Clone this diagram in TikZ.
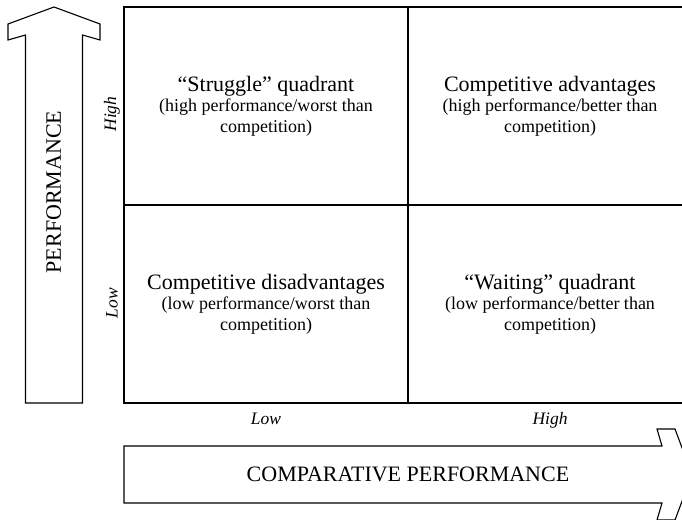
\documentclass[tikz,border=0pt]{standalone}
\usepackage{fontspec}
\setmainfont{Liberation Serif}
\usetikzlibrary{positioning}

\begin{document}
\begin{tikzpicture}[
  x=1pt,y=-1pt,
  line width=1.1pt,
  node distance=0pt,
  quad/.style={draw,minimum width=284pt,minimum height=198pt,outer sep=0pt,inner sep=0pt,align=center,font=\fontsize{18}{20.5}\selectfont},
  head/.style={font=\fontsize{22}{24}\selectfont},
  level/.style={font=\fontsize{17.5}{20}\selectfont\itshape},
  axis/.style={font=\fontsize{22}{26}\selectfont},
  bigarrow/.style={draw,line join=miter}
]
\useasboundingbox (0,0) rectangle (682,519);
\clip (0,0) rectangle (682,519);
% axis arrows
\draw[bigarrow] (25.5,403) -- (25.5,35) -- (8,40) -- (8,24) -- (54,7) -- (100,24) -- (100,40) -- (82.5,35) -- (82.5,403) -- cycle;
\draw[bigarrow] (124,446) -- (662,446) -- (657,429) -- (675,429) -- (692,474.5) -- (675,520) -- (657,520) -- (662,503) -- (124,503) -- cycle;
\node[axis,rotate=90] (perf) at (53.75,192) {PERFORMANCE};
\node[axis] (comp) at (408,474.5) {COMPARATIVE PERFORMANCE};
% quadrants
\node[quad] (struggle) at (266,106) {{\fontsize{22}{24}\selectfont “Struggle” quadrant}\\(high performance/worst than\\competition)};
\node[quad,right=of struggle] (advantage) {{\fontsize{22}{24}\selectfont Competitive advantages}\\(high performance/better than\\competition)};
\node[quad,below=of struggle] (disadvantage) {{\fontsize{22}{24}\selectfont Competitive disadvantages}\\(low performance/worst than\\competition)};
\node[quad,right=of disadvantage] (waiting) {{\fontsize{22}{24}\selectfont “Waiting” quadrant}\\(low performance/better than\\competition)};
% levels
\node[level,rotate=90] (yhigh) at (112,114) {High};
\node[level,rotate=90] (ylow) at (112,303) {Low};
\node[level,anchor=base] (xlow) at (266,424) {Low};
\node[level,anchor=base] (xhigh) at (550,424) {High};
\end{tikzpicture}
\end{document}
